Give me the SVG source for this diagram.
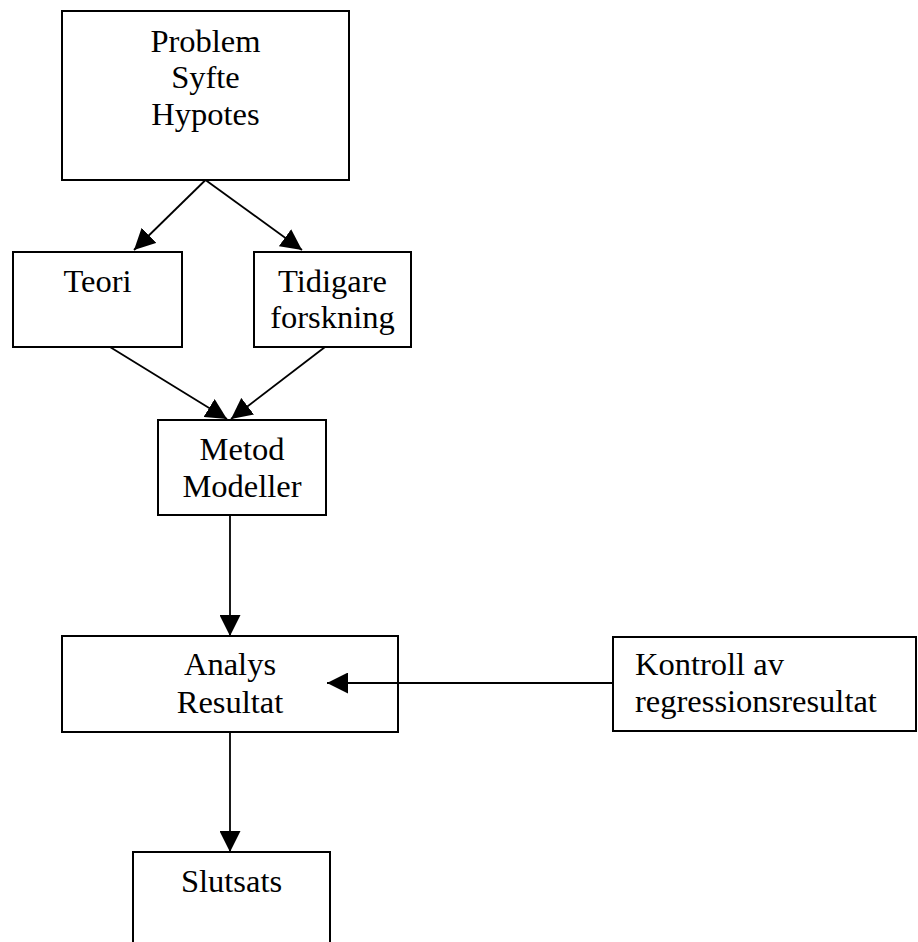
<svg xmlns="http://www.w3.org/2000/svg" width="918" height="942" viewBox="0 0 918 942">
<style>
.box{fill:#fff;stroke:#000;stroke-width:2}
.t{font-family:"Liberation Serif","Times New Roman",serif;font-size:32.5px;fill:#000;text-anchor:middle}
.l{text-anchor:start}
.c{stroke:#000;stroke-width:1.8;fill:none;marker-end:url(#ah)}
</style>
<defs>
<marker id="ah" markerUnits="userSpaceOnUse" markerWidth="21" markerHeight="21" refX="21" refY="10.5" orient="auto" viewBox="0 0 21 21">
<path d="M0,0 L21,10.5 L0,21 z" fill="#000"/>
</marker>
</defs>
<rect width="918" height="942" fill="#fff"/>
<g id="n-problem"><rect class="box" x="62" y="11" width="287" height="169"/>
<text class="t" x="205.5" y="52">Problem</text><text class="t" x="205.5" y="88">Syfte</text><text class="t" x="205.5" y="125">Hypotes</text></g>
<g id="n-teori"><rect class="box" x="13" y="252" width="169" height="95"/>
<text class="t" x="97.5" y="292">Teori</text></g>
<g id="n-tidigare"><rect class="box" x="254" y="252" width="157" height="95"/>
<text class="t" x="332.5" y="292">Tidigare</text><text class="t" x="332.5" y="328">forskning</text></g>
<g id="n-metod"><rect class="box" x="158" y="420" width="168" height="95"/>
<text class="t" x="242" y="460">Metod</text><text class="t" x="242" y="497">Modeller</text></g>
<g id="n-analys"><rect class="box" x="62" y="636" width="336" height="96"/>
<text class="t" x="230" y="675">Analys</text><text class="t" x="230" y="713">Resultat</text></g>
<g id="n-kontroll"><rect class="box" x="613" y="637" width="303" height="94"/>
<text class="t l" x="635" y="675">Kontroll av</text><text class="t l" x="635" y="712">regressionsresultat</text></g>
<g id="n-slutsats"><rect class="box" x="133" y="852" width="197" height="100"/>
<text class="t" x="231.5" y="892">Slutsats</text></g>
<g id="connectors">
<line class="c" x1="205.5" y1="180" x2="134" y2="250"/>
<line class="c" x1="205.5" y1="180" x2="302" y2="250"/>
<line class="c" x1="110" y1="347" x2="227" y2="419"/>
<line class="c" x1="325" y1="347" x2="231" y2="419"/>
<line class="c" x1="230" y1="515" x2="230" y2="636"/>
<line class="c" x1="613" y1="683" x2="327" y2="683"/>
<line class="c" x1="230" y1="732" x2="230" y2="852"/>
</g>
</svg>
